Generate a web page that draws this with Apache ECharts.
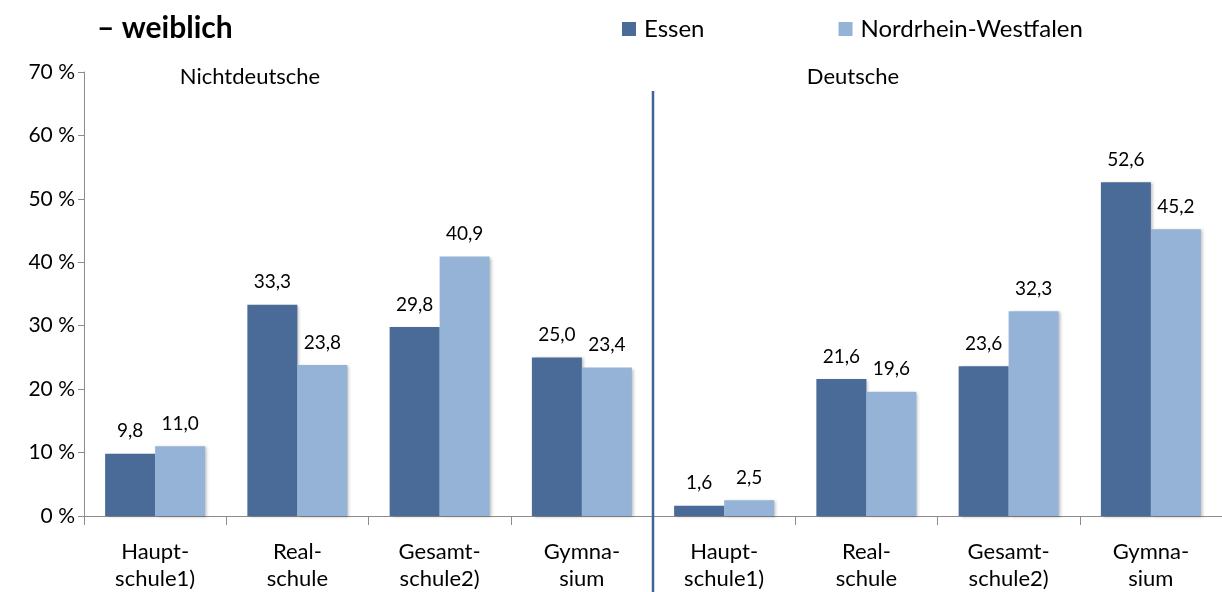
<!DOCTYPE html>
<html><head><meta charset="utf-8">
<script src="https://cdn.jsdelivr.net/npm/echarts@6/dist/echarts.min.js"></script>
<style>html,body{margin:0;padding:0;background:#fff}#c{width:1222px;height:592px}</style>
</head><body><div id="c"></div>
<script>
const categories = ['Haupt-\nschule1)','Real-\nschule','Gesamt-\nschule2)','Gymna-\nsium','Haupt-\nschule1)','Real-\nschule','Gesamt-\nschule2)','Gymna-\nsium'];
const essen = [9.8, 33.3, 29.8, 25.0, 1.6, 21.6, 23.6, 52.6];
const nrw = [11.0, 23.8, 40.9, 23.4, 2.5, 19.6, 32.3, 45.2];
const yTicks = [0,10,20,30,40,50,60,70];
const groupLabels = ['Nichtdeutsche','Deutsche'];
const FONT = 'Lato, "Open Sans", sans-serif';
const chart = echarts.init(document.getElementById('c'));
const fmt = p => p.value.toFixed(1).replace('.', ',');
const barShadow = {shadowColor:'rgba(0,0,0,0.25)', shadowBlur:3, shadowOffsetX:2, shadowOffsetY:1};
chart.setOption({
  animation:false,
  grid:{left:84, right:0, top:72, bottom:74},
  legend:{top:12, left:617, itemGap:134, itemWidth:14, itemHeight:14, icon:'rect',
    textStyle:{fontFamily:FONT, fontSize:24, color:'#000', padding:[0,0,0,3]}, data:['Essen','Nordrhein-Westfalen']},
  title:{text:'– weiblich', left:92, top:8, textStyle:{fontFamily:FONT, fontSize:30, fontWeight:'bold', color:'#000'}},
  xAxis:{type:'category', data:categories,
    axisLine:{lineStyle:{color:'#8c8c8c', width:1}},
    axisTick:{show:true, length:9, lineStyle:{color:'#8c8c8c'}},
    axisLabel:{fontFamily:FONT, fontSize:22, color:'#000', lineHeight:27, margin:22, interval:0}},
  yAxis:{type:'value', min:yTicks[0], max:yTicks[yTicks.length-1], interval:10,
    axisLine:{show:true, lineStyle:{color:'#8c8c8c'}},
    axisTick:{show:true, length:6, lineStyle:{color:'#8c8c8c'}},
    splitLine:{show:false},
    axisLabel:{fontFamily:FONT, fontSize:21, color:'#000', margin:9, formatter:v=>v+' %'}},
  series:[
    {name:'Essen', type:'bar', data:essen, barWidth:50, barGap:'0%',
      itemStyle:Object.assign({color:'#4A6A97'}, barShadow),
      label:{show:true, position:'top', distance:13, formatter:fmt, fontFamily:FONT, fontSize:19, color:'#000'}},
    {name:'Nordrhein-Westfalen', type:'bar', data:nrw, barWidth:50,
      itemStyle:Object.assign({color:'#95B3D7'}, barShadow),
      label:{show:true, position:'top', distance:13, formatter:fmt, fontFamily:FONT, fontSize:19, color:'#000'}}
  ]
});
function addGraphics(){
  const c3 = chart.convertToPixel({xAxisIndex:0}, 3);
  const c4 = chart.convertToPixel({xAxisIndex:0}, 4);
  const xDiv = (c3 + c4) / 2;
  const yTop = chart.convertToPixel({yAxisIndex:0}, 67);
  chart.setOption({graphic:[
    {type:'line', shape:{x1:xDiv, y1:yTop, x2:xDiv, y2:592}, style:{stroke:'#3F6596', lineWidth:2.5}, z:10},
    {type:'text', x:250, y:77, style:{text:groupLabels[0], textAlign:'center', textVerticalAlign:'middle', font:'22px '+FONT, fill:'#000'}},
    {type:'text', x:853, y:77, style:{text:groupLabels[1], textAlign:'center', textVerticalAlign:'middle', font:'22px '+FONT, fill:'#000'}}
  ]});
}
addGraphics();
</script></body></html>
